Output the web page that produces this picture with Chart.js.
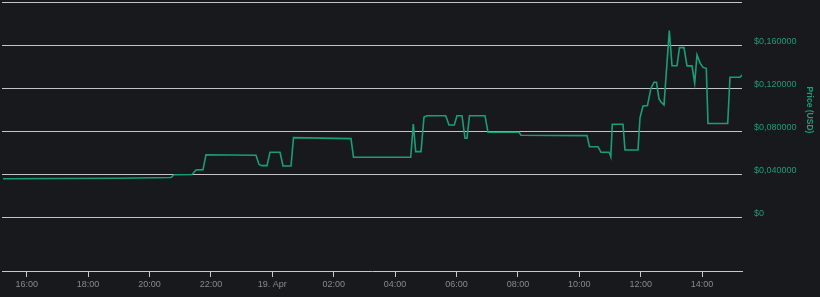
<!DOCTYPE html>
<html>
<head>
<meta charset="utf-8">
<script src="https://cdn.jsdelivr.net/npm/chart.js@4/dist/chart.umd.min.js"></script>
<style>
  html, body { margin: 0; padding: 0; background: #18191d; }
  #wrap { width: 820px; height: 297px; position: relative; }
</style>
</head>
<body>
<div id="wrap"><canvas id="c"></canvas></div>
<script>
// Time in hours since 18 Apr 00:00 (24 = "19. Apr")
const hours = [15.228,17.085,19.039,20.700,20.798,21.384,21.515,21.743,21.840,23.469,
  23.567,23.664,23.827,23.925,24.251,24.349,24.609,24.691,26.563,26.645,
  28.508,28.593,28.671,28.844,28.941,29.039,29.648,29.756,29.928,30.016,
  30.179,30.277,30.342,30.423,30.928,31.026,32.036,32.101,34.251,34.332,
  34.609,34.707,34.967,35.000,35.026,35.075,35.423,35.489,35.912,35.977,
  36.075,36.221,36.335,36.433,36.515,36.596,36.661,36.759,36.932,37.020,
  37.183,37.264,37.411,37.508,37.671,37.759,37.834,37.932,38.029,38.137,
  38.192,38.834,38.909,39.235,39.300];
// Price in USD
const prices = [0.0360,0.0362,0.0364,0.0371,0.0397,0.0399,0.0441,0.0444,0.0583,0.0578,
  0.0492,0.0481,0.0481,0.0605,0.0605,0.0478,0.0478,0.0741,0.0732,0.0559,
  0.0559,0.0868,0.0611,0.0611,0.0933,0.0945,0.0945,0.0859,0.0859,0.0945,
  0.0945,0.0735,0.0735,0.0945,0.0945,0.0791,0.0791,0.0763,0.0760,0.0657,
  0.0657,0.0605,0.0605,0.0587,0.0565,0.0865,0.0865,0.0627,0.0627,0.0924,
  0.1035,0.1040,0.1200,0.1255,0.1255,0.1100,0.1072,0.1045,0.1734,0.1409,
  0.1409,0.1577,0.1577,0.1407,0.1407,0.1246,0.1509,0.1435,0.1393,0.1385,
  0.0872,0.0872,0.1302,0.1302,0.1323];
const xTickHours = [16,18,20,22,24,26,28,30,32,34,36,38];
const yTickValues = [0,0.04,0.08,0.12,0.16,0.2];
const yAxisTitle = 'Price (USD)';

const GREEN = '#1a9e76';
const points = hours.map((h, i) => ({ x: h, y: prices[i] }));

function fmtHour(v) {
  if (Math.abs(v - 24) < 1e-6) return '19. Apr';
  const h = ((Math.round(v) % 24) + 24) % 24;
  return (h < 10 ? '0' : '') + h + ':00';
}
function fmtPrice(v) {
  if (Math.abs(v) < 1e-9) return '$0';
  if (v > 0.19) return '';
  return '$' + v.toFixed(6).replace('.', ',');
}

const titlePlugin = {
  id: 'yTitle',
  afterDraw(chart) {
    const ctx = chart.ctx;
    ctx.save();
    ctx.translate(809.5, 110);
    ctx.rotate(Math.PI / 2);
    ctx.fillStyle = GREEN;
    ctx.font = 'bold 8.5px "Liberation Sans", Arial, sans-serif';
    ctx.textAlign = 'center';
    ctx.textBaseline = 'middle';
    ctx.fillText(yAxisTitle, 0, 0);
    ctx.restore();
  }
};

new Chart(document.getElementById('c'), {
  type: 'line',
  data: {
    datasets: [{
      data: points,
      borderColor: GREEN,
      borderWidth: 1.6,
      pointRadius: 0,
      tension: 0,
      fill: false
    }]
  },
  options: {
    responsive: true,
    maintainAspectRatio: false,
    animation: false,
    layout: { padding: { left: 2, top: 2, right: 0, bottom: 0 } },
    plugins: { legend: { display: false }, tooltip: { enabled: false } },
    scales: {
      x: {
        type: 'linear',
        min: 15.195,
        max: 39.30,
        afterBuildTicks: s => { s.ticks = xTickHours.map(v => ({ value: v })); },
        afterFit: s => { s.height = 26; s.paddingLeft = 0; s.paddingRight = 0; },
        grid: { drawOnChartArea: false, drawTicks: true, tickLength: 6, color: '#c8c8c8' },
        border: { display: true, color: '#c8c8c8', width: 1 },
        ticks: {
          color: '#8a8a8a',
          font: { family: '"Liberation Sans", Arial, sans-serif', size: 9 },
          padding: 2,
          maxRotation: 0,
          autoSkip: false,
          callback: v => fmtHour(v)
        }
      },
      y: {
        position: 'right',
        min: -0.04965,
        max: 0.2,
        afterBuildTicks: s => { s.ticks = yTickValues.map(v => ({ value: v })); },
        afterFit: s => { s.width = 78; s.paddingTop = 0; s.paddingBottom = 0; },
        grid: { color: '#c4c4c4', lineWidth: 1, drawTicks: false },
        border: { display: false },
        ticks: {
          color: GREEN,
          font: { family: '"Liberation Sans", Arial, sans-serif', size: 9 },
          padding: 12,
          labelOffset: -4,
          autoSkip: false,
          callback: v => fmtPrice(v)
        }
      }
    }
  },
  plugins: [titlePlugin]
});
</script>
</body>
</html>
